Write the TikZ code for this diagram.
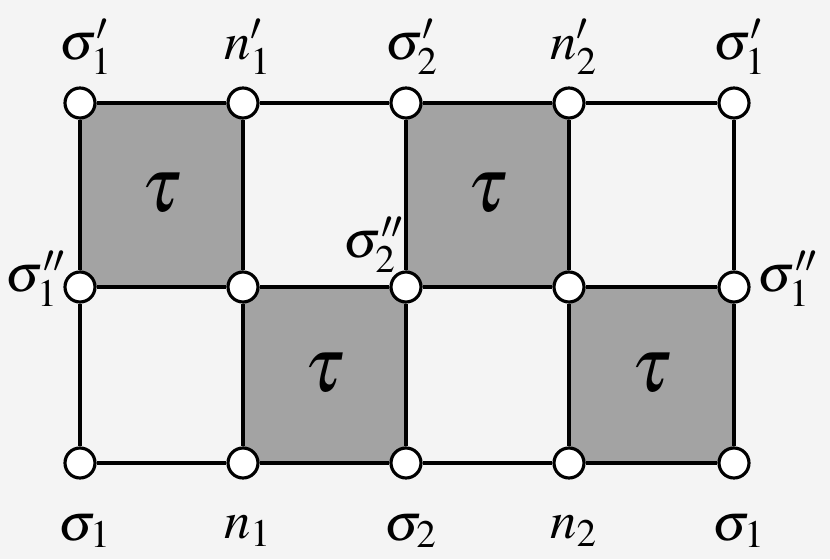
\documentclass[tikz,border=0pt]{standalone}
\usepackage{mathptmx}
\usetikzlibrary{backgrounds}
\tikzset{
  site/.style={circle, draw, fill=white, line width=0.9pt, minimum size=0.30cm, inner sep=0pt},
  bond/.style={line width=1pt},
  plaq/.style={fill=gray!72},
  lab/.style={font=\fontsize{15}{18}\selectfont},
  plaqlab/.style={font=\fontsize{22}{26}\selectfont},
}
\begin{document}
\begin{tikzpicture}
      \useasboundingbox (0,0) rectangle (8.3,5.59);
      \node[site] (A1) at (0.80, 4.56) {};
      \node[site] (B1) at (2.43, 4.56) {};
      \node[site] (C1) at (4.06, 4.56) {};
      \node[site] (D1) at (5.69, 4.56) {};
      \node[site] (E1) at (7.34, 4.56) {};
      \node[site] (A2) at (0.80, 2.72) {};
      \node[site] (B2) at (2.43, 2.72) {};
      \node[site] (C2) at (4.06, 2.72) {};
      \node[site] (D2) at (5.69, 2.72) {};
      \node[site] (E2) at (7.34, 2.72) {};
      \node[site] (A3) at (0.80, 0.96) {};
      \node[site] (B3) at (2.43, 0.96) {};
      \node[site] (C3) at (4.06, 0.96) {};
      \node[site] (D3) at (5.69, 0.96) {};
      \node[site] (E3) at (7.34, 0.96) {};
      % shaded plaquettes
      \begin{scope}[on background layer]
        \fill[gray!9] (0,0) rectangle (8.3,5.59);
        \fill[plaq] (A1.center) rectangle (B2.center);
        \fill[plaq] (C1.center) rectangle (D2.center);
        \fill[plaq] (B2.center) rectangle (C3.center);
        \fill[plaq] (D2.center) rectangle (E3.center);
      \end{scope}
      \node[plaqlab] (T1) at (1.62, 3.66) {$\tau$};
      \node[plaqlab] (T2) at (4.88, 3.66) {$\tau$};
      \node[plaqlab] (T3) at (3.25, 1.86) {$\tau$};
      \node[plaqlab] (T4) at (6.52, 1.86) {$\tau$};
      % bonds
      \draw[bond] (A1) -- (B1);
      \draw[bond] (B1) -- (C1);
      \draw[bond] (C1) -- (D1);
      \draw[bond] (D1) -- (E1);
      \draw[bond] (A2) -- (B2);
      \draw[bond] (B2) -- (C2);
      \draw[bond] (C2) -- (D2);
      \draw[bond] (D2) -- (E2);
      \draw[bond] (A3) -- (B3);
      \draw[bond] (B3) -- (C3);
      \draw[bond] (C3) -- (D3);
      \draw[bond] (D3) -- (E3);
      \draw[bond] (A1) -- (A2);
      \draw[bond] (B1) -- (B2);
      \draw[bond] (C1) -- (C2);
      \draw[bond] (D1) -- (D2);
      \draw[bond] (E1) -- (E2);
      \draw[bond] (A2) -- (A3);
      \draw[bond] (B2) -- (B3);
      \draw[bond] (C2) -- (C3);
      \draw[bond] (D2) -- (D3);
      \draw[bond] (E2) -- (E3);
      % site labels
      \node[lab] (LA1) at (0.86, 5.12) {$\sigma'_1$};
      \node[lab] (LB1) at (2.48, 5.12) {$n'_1$};
      \node[lab] (LC1) at (4.12, 5.12) {$\sigma'_2$};
      \node[lab] (LD1) at (5.74, 5.12) {$n'_2$};
      \node[lab] (LE1) at (7.40, 5.12) {$\sigma'_1$};
      \node[lab] (LA2) at (0.36, 2.80) {$\sigma''_1$};
      \node[lab] (LC2) at (3.74, 3.14) {$\sigma''_2$};
      \node[lab] (LE2) at (7.88, 2.80) {$\sigma''_1$};
      \node[lab] (LA3) at (0.85, 0.28) {$\sigma_1$};
      \node[lab] (LB3) at (2.48, 0.28) {$n_1$};
      \node[lab] (LC3) at (4.11, 0.28) {$\sigma_2$};
      \node[lab] (LD3) at (5.74, 0.28) {$n_2$};
      \node[lab] (LE3) at (7.39, 0.28) {$\sigma_1$};
    \end{tikzpicture}
\end{document}
